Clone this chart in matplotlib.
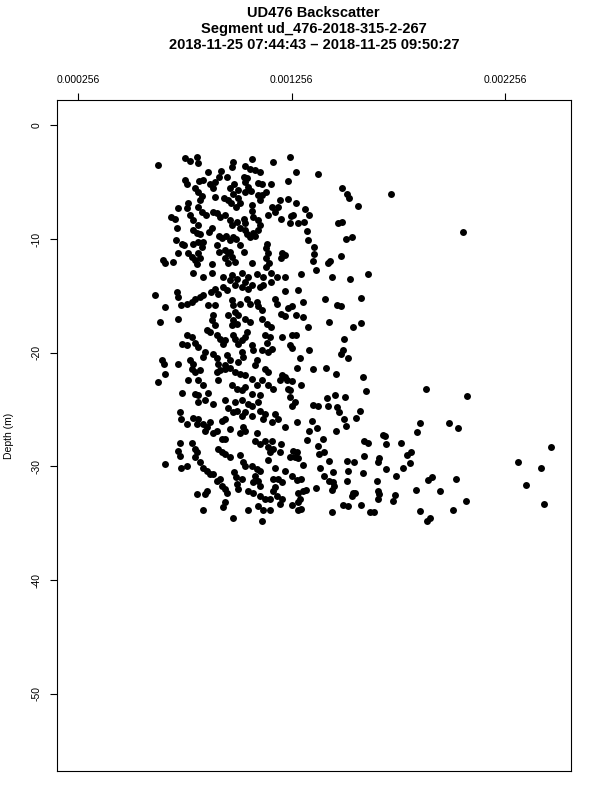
import numpy as np
import matplotlib
matplotlib.use("Agg")
import matplotlib.pyplot as plt

plt.rcParams['font.family'] = ['Liberation Sans', 'DejaVu Sans']

# Backscatter (x 1e-6) and depth (m), grouped by region
core_top = [
    (629, -3.5), (757, -2.9), (780, -3.1), (813, -2.8), (818, -3.3), (982, -3.2), (977, -3.7), (1071, -3.0), (1038, -3.6), (1061, -3.8),
    (1085, -3.9), (1108, -4.1), (1169, -3.2), (865, -4.1), (926, -4.0), (916, -4.5), (954, -4.5), (1033, -4.5), (1047, -4.6), (757, -4.8),
    (766, -5.2), (822, -4.9), (841, -4.8), (897, -5.0), (874, -5.2), (888, -5.5), (804, -5.5), (818, -5.9), (836, -6.2), (827, -6.6),
    (987, -5.2), (968, -5.5), (982, -6.0), (1005, -5.7), (1038, -5.0), (1052, -5.4), (1038, -5.9), (1066, -5.8), (1099, -5.1), (1118, -5.2),
    (1160, -5.2), (1136, -5.9), (1118, -6.1), (1202, -6.6), (1192, -7.2), (897, -6.3), (939, -6.4), (958, -6.6), (972, -6.8), (1005, -6.4),
    (1014, -6.8), (996, -7.2), (1071, -7.0), (1071, -7.5), (1099, -6.1), (1108, -6.6), (771, -6.8), (766, -7.3), (724, -7.3), (818, -7.2),
    (836, -7.6), (691, -8.1), (710, -8.2), (780, -7.9), (794, -8.3), (855, -7.9), (888, -7.6), (907, -7.7), (921, -8.1), (944, -7.9),
    (968, -8.3), (977, -8.8), (1000, -8.5), (1014, -9.0), (1033, -8.2), (1038, -8.6), (1075, -8.1), (1099, -8.3), (1164, -7.2), (1178, -7.6),
    (1146, -7.9), (1207, -8.2), (1108, -8.8), (1099, -9.2), (720, -9.0), (818, -8.8), (794, -9.2), (813, -9.5), (827, -9.6), (883, -9.0),
    (869, -9.4), (916, -9.7), (930, -9.9), (949, -9.7), (968, -10.1), (982, -9.8), (996, -10.0), (1038, -9.2), (1047, -9.6), (1061, -9.8),
    (1075, -9.5), (1085, -9.7), (715, -10.1), (743, -10.4), (752, -10.5), (794, -10.4), (818, -10.3), (841, -10.3), (836, -10.7), (907, -10.5),
    (916, -11.1), (944, -11.0), (958, -11.2), (968, -11.1), (977, -11.6), (1014, -10.5), (1033, -11.1), (1141, -10.4), (1136, -10.8), (1146, -11.2),
    (1136, -11.7), (1150, -12.1), (1211, -11.2), (1207, -11.7), (724, -11.2), (654, -11.8), (663, -12.1), (701, -12.0), (771, -11.2), (790, -11.6),
    (804, -11.8), (813, -12.2), (818, -11.2), (827, -11.7), (883, -12.2), (944, -11.7), (958, -12.1), (991, -12.0), (1071, -12.1), (1136, -12.5),
]

core_mid = [
    (794, -13.0), (841, -13.3), (883, -13.0), (935, -13.3), (977, -13.2), (1024, -13.0), (1052, -13.3), (1094, -13.1), (1122, -13.3), (1160, -13.0),
    (1188, -13.3), (616, -14.9), (719, -14.7), (724, -15.1), (738, -15.8), (766, -15.7), (790, -15.5), (804, -15.3), (827, -15.1), (841, -14.9),
    (879, -14.7), (897, -14.4), (911, -14.8), (935, -14.2), (954, -14.5), (968, -13.6), (991, -14.0), (1000, -13.5), (1024, -14.2), (1038, -13.8),
    (1052, -14.4), (1071, -14.0), (1108, -14.2), (1122, -14.0), (1160, -13.8), (663, -16.0), (640, -17.3), (724, -17.0), (865, -15.8), (897, -15.8),
    (977, -15.4), (982, -15.8), (1014, -15.7), (991, -16.4), (1005, -16.7), (1047, -15.3), (1061, -15.7), (1094, -15.5), (1099, -15.9), (1118, -16.2),
    (1178, -15.3), (1188, -15.7), (888, -16.7), (883, -17.1), (897, -17.6), (860, -18.0), (874, -18.2), (958, -16.7), (982, -17.1), (977, -17.6),
    (1000, -17.5), (1038, -17.0), (1061, -17.3), (1118, -17.0), (1141, -17.5), (1160, -17.7), (1207, -16.6), (766, -18.4), (790, -18.6), (743, -19.2),
    (766, -19.3), (804, -19.1), (818, -19.5), (907, -18.4), (921, -18.8), (935, -19.2), (944, -18.9), (982, -18.4), (991, -18.8), (1005, -19.2),
    (1024, -18.9), (1047, -18.2), (1038, -18.6), (1071, -19.3), (1075, -19.8), (1132, -18.4), (1155, -18.6), (1141, -19.1), (1164, -19.7), (1146, -19.9),
    (1118, -19.8), (1211, -18.6), (850, -19.9), (841, -20.4), (888, -20.1), (907, -20.5), (911, -21.0), (954, -20.2), (968, -20.6), (944, -21.1),
    (968, -21.3), (1024, -19.9), (1028, -20.4), (1005, -20.8), (1094, -20.6), (1085, -21.1), (649, -20.6), (659, -21.0), (724, -21.0), (780, -20.6),
    (794, -21.0), (790, -21.4), (804, -21.7), (827, -21.5), (907, -21.7), (921, -21.5), (944, -21.4), (991, -21.7), (1014, -21.9), (1038, -22.0),
    (1132, -21.4), (1146, -21.7), (1211, -22.0), (1202, -22.4), (663, -21.9), (630, -22.6), (771, -22.4), (818, -22.4), (841, -22.8), (911, -22.4),
    (977, -22.8), (1000, -23.2), (1024, -23.3), (1038, -23.0), (1071, -22.3), (1094, -22.8), (1118, -22.4), (1146, -22.8), (1169, -23.2), (743, -23.5),
    (804, -23.6), (818, -23.7), (865, -23.5), (1071, -23.6), (1108, -23.7),
]

core_low = [
    (818, -24.3), (850, -24.2), (888, -24.5), (944, -24.2), (991, -24.3), (1024, -24.2), (1052, -24.5), (1071, -24.7), (1099, -24.3), (733, -25.2),
    (738, -25.8), (794, -25.7), (818, -25.8), (841, -26.3), (860, -26.5), (874, -26.1), (930, -26.0), (944, -25.8), (958, -24.9), (982, -25.2),
    (1000, -25.1), (1024, -25.6), (1038, -25.2), (1071, -25.6), (1108, -25.1), (1132, -25.4), (1122, -25.8), (1178, -25.4), (1164, -26.1), (1192, -25.8),
    (766, -26.3), (813, -26.3), (850, -26.9), (888, -27.1), (907, -26.9), (968, -26.7), (1014, -27.1), (1038, -26.9), (1028, -26.5), (1094, -27.1),
    (930, -27.6), (944, -27.6), (733, -27.9), (790, -27.9), (804, -28.5), (813, -28.7), (724, -28.6), (733, -29.1), (911, -28.5), (930, -28.7),
    (944, -28.9), (968, -29.2), (1014, -29.0), (1085, -27.8), (1108, -28.0), (1132, -27.8), (1146, -28.3), (1164, -27.8), (1169, -28.5), (1155, -28.7),
    (1207, -28.0), (1202, -28.7), (804, -29.2), (663, -29.8), (738, -30.1), (766, -30.0), (827, -29.6), (841, -30.1), (860, -30.4), (874, -30.7),
    (888, -30.7), (1028, -29.6), (1038, -30.0), (1071, -30.0), (1094, -30.2), (1108, -30.4), (1146, -29.4), (1178, -30.1), (907, -31.3), (921, -31.1),
    (987, -30.5), (996, -30.9), (1024, -31.1), (1085, -30.8), (1099, -31.3), (1108, -31.7), (1075, -31.4), (1169, -31.1), (1192, -31.1), (1211, -31.4),
    (930, -31.7), (944, -32.0), (954, -32.3), (1000, -31.5), (1005, -32.0), (860, -32.2), (850, -32.4), (813, -32.4), (1052, -32.2), (1075, -32.3),
    (1108, -32.6), (1132, -32.9), (1155, -32.9), (1188, -32.6), (1169, -32.2), (1178, -31.8), (1211, -32.9), (1202, -33.3), (944, -33.1), (935, -33.6),
    (841, -33.8), (1052, -33.8), (1099, -33.5), (1122, -33.8), (1155, -33.8), (982, -34.5), (1118, -34.8),
]

right_upper = [
    (1249, -2.8), (1277, -4.1), (1380, -4.3), (1239, -4.9), (1492, -5.5), (1516, -6.0), (1525, -6.4), (1568, -7.1), (1722, -6.0), (1239, -6.5),
    (1277, -6.8), (1319, -7.4), (1338, -7.9), (1253, -8.0), (1263, -7.9), (1249, -8.6), (1286, -8.6), (1314, -8.5), (1474, -8.6), (1492, -8.5),
    (1328, -9.3), (1333, -10.1), (1511, -10.0), (1539, -9.8), (1225, -11.4), (1361, -10.7), (1361, -11.3), (1356, -11.9), (1488, -11.5), (1427, -12.1),
    (1436, -11.9), (1370, -12.7), (2060, -9.4),
    (1225, -13.3), (1300, -13.1), (1445, -13.3), (1530, -13.5), (1614, -13.1), (1286, -14.5), (1225, -14.6), (1310, -15.5), (1413, -15.3), (1469, -15.8),
    (1488, -15.9), (1582, -15.2), (1239, -16.1), (1258, -15.9), (1225, -16.8), (1277, -16.7), (1310, -16.9), (1333, -17.7), (1431, -17.3), (1544, -17.7),
    (1582, -17.4), (1258, -18.4), (1277, -18.4), (1502, -18.8), (1249, -19.3), (1258, -19.6), (1338, -19.8), (1497, -19.8), (1488, -20.1), (1520, -20.5),
    (1296, -20.5), (1282, -21.3), (1356, -21.4), (1417, -21.3), (1464, -21.9), (1591, -22.1), (1225, -22.1), (1235, -22.4), (1258, -22.5), (1300, -22.8),
    (1239, -23.2), (1249, -23.3), (1605, -23.4), (1249, -23.9), (1422, -24.0), (1460, -23.7), (1506, -23.9), (1886, -23.2), (2078, -23.8),
]

right_lower = [
    (1272, -24.3), (1258, -24.7), (1356, -24.6), (1380, -24.7), (1427, -24.7), (1469, -24.8), (1478, -25.2), (1577, -25.1), (1502, -25.8), (1511, -26.4),
    (1558, -25.7), (1282, -26.1), (1352, -26.0), (1225, -26.5), (1375, -26.6), (1338, -26.9), (1464, -26.9), (1685, -27.2), (1694, -27.3), (1858, -26.2),
    (1844, -27.0), (1328, -27.7), (1403, -27.6), (1596, -27.8), (1614, -27.9), (1699, -28.0), (1769, -27.9), (1380, -28.2), (1263, -28.6), (1282, -28.7),
    (1385, -28.9), (1408, -28.7), (1249, -29.2), (1272, -29.2), (1286, -29.3), (1816, -28.7), (1797, -29.0), (1596, -29.1), (1666, -29.3), (1661, -29.6),
    (1431, -29.5), (1310, -29.9), (1516, -29.5), (1549, -29.6), (1811, -29.7), (1389, -30.1), (1699, -30.2), (1778, -30.1), (1225, -30.4), (1450, -30.5),
    (1520, -30.4), (1591, -30.6), (1258, -30.8), (1408, -30.8), (1746, -30.8), (1282, -31.2), (1300, -31.1), (1431, -31.3), (1450, -31.4), (1455, -31.7),
    (1446, -32.1), (1516, -31.3), (1657, -31.3), (1371, -31.9), (1286, -32.3), (1310, -32.2), (1324, -32.1), (1544, -32.3), (1553, -32.3), (1539, -32.6),
    (1661, -32.2), (1666, -32.4), (1741, -32.5), (1839, -32.1), (1296, -32.9), (1286, -33.1), (1661, -32.9), (1732, -33.0), (1258, -33.4), (1497, -33.4),
    (1520, -33.5), (1582, -33.4), (1286, -33.8), (1300, -33.7), (1858, -33.9), (1446, -34.0), (1624, -34.0), (1643, -34.0),
]

far_right = [
    (1994, -26.2), (2036, -26.6), (2472, -28.3), (2317, -29.6), (2425, -30.1), (1896, -31.2), (1914, -30.9), (2027, -31.1), (1952, -32.2), (2354, -31.6),
    (2073, -33.0), (2013, -33.8), (2439, -33.3), (1905, -34.5), (1891, -34.8),
]

x_ticks = [0.000256, 0.001256, 0.002256]
x_tick_labels = ['0.000256', '0.001256', '0.002256']
y_ticks = [0, -10, -20, -30, -40, -50]

pts = np.array(core_top + core_mid + core_low + right_upper + right_lower + far_right, dtype=float)
backscatter = pts[:, 0] * 1e-6
depth = pts[:, 1]

fig = plt.figure(figsize=(6, 8), dpi=100)
ax = fig.add_axes([0.0955, 0.0366, 0.8562, 0.838])

ax.plot(backscatter, depth, 'o', color='black', ms=5.0, mew=0)

ax.set_xlim(0.000159, 0.002565)
ax.set_ylim(-56.76, 2.2)

ax.xaxis.tick_top()
ax.set_xticks(x_ticks)
ax.set_xticklabels(x_tick_labels)
ax.set_yticks(y_ticks)
ax.set_yticklabels([f'{v:d}' for v in y_ticks], rotation=90, va='center')
ax.tick_params(direction='out', length=5, width=0.8, labelsize=7.5, pad=6, color='black')
for s in ax.spines.values():
    s.set_linewidth(0.8)

ax.set_ylabel('Depth (m)', fontsize=7.5)
ax.yaxis.set_label_coords(-0.085, 0.5)

fig.text(0.523, 1 - 29 / 800,
         'UD476 Backscatter\nSegment ud_476-2018-315-2-267\n2018-11-25 07:44:43 \u2013 2018-11-25 09:50:27',
         ha='center', va='center', fontsize=10.5, fontweight='bold', linespacing=1.15)

fig.savefig('out.png', dpi=100)
